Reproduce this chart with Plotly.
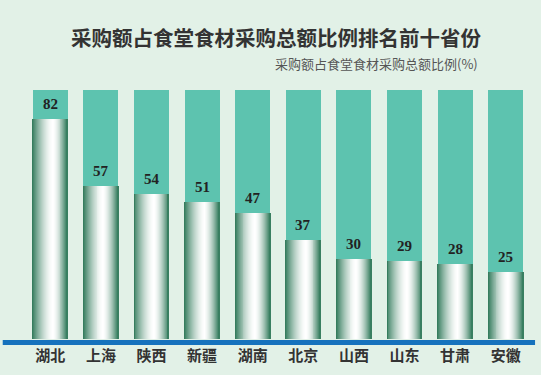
import plotly.graph_objects as go

provinces = ["湖北", "上海", "陕西", "新疆", "湖南", "北京", "山西", "山东", "甘肃", "安徽"]
shares = [82, 57, 54, 51, 47, 37, 30, 29, 28, 25]
axis_max = 93

title_text = "采购额占食堂食材采购总额比例排名前十省份"
subtitle_text = "采购额占食堂食材采购总额比例(%)"

BG = "#e2f1e7"
TEAL = "#5dc3af"
BAR_W = 0.69
N_STRIPES = 36

fig = go.Figure()

# full-height teal tracks
fig.add_trace(go.Bar(x=provinces, y=[axis_max] * len(provinces), width=BAR_W,
                     marker=dict(color=TEAL, line=dict(width=0)),
                     hoverinfo="skip", showlegend=False))

# metallic gradient value bars built from thin stripes
dark = (46, 120, 88)
white = (255, 255, 255)
peak = 0.58
sw = BAR_W / N_STRIPES
for i in range(N_STRIPES):
    t = (i + 0.5) / N_STRIPES
    d = abs(t - peak) / (peak if t < peak else 1 - peak)
    k = min(1.0, d) ** 1.6
    c = tuple(int(round(white[j] + (dark[j] - white[j]) * k)) for j in range(3))
    fig.add_trace(go.Bar(x=provinces, y=shares, width=sw * 1.15,
                         offset=-BAR_W / 2 + i * sw,
                         marker=dict(color="rgb(%d,%d,%d)" % c, line=dict(width=0)),
                         hoverinfo="skip", showlegend=False))

for p, v in zip(provinces, shares):
    fig.add_annotation(x=p, y=v, text=str(v), showarrow=False, yshift=15,
                       font=dict(family="Liberation Serif", size=15, color="#222222", weight="bold"))

fig.add_annotation(xref="paper", yref="paper", x=0.496, y=1.0, yshift=53, yanchor="middle",
                   text=title_text, showarrow=False, xanchor="center",
                   font=dict(family="Noto Sans CJK SC", size=20.5, color="#333333", weight="bold"))
fig.add_annotation(xref="paper", yref="paper", x=0.9, y=1.0, yshift=27, yanchor="middle",
                   text=subtitle_text, showarrow=False, xanchor="right",
                   font=dict(family="Noto Sans CJK SC", size=13, color="#555555"))

# blue base line
fig.add_shape(type="rect", xref="paper", yref="paper", x0=-0.044, x1=1.008,
              y0=-0.024, y1=-0.004, fillcolor="#1672bd", line=dict(width=0))

fig.update_layout(
    width=541, height=375,
    margin=dict(l=25, r=10, t=90, b=36),
    paper_bgcolor=BG, plot_bgcolor=BG,
    barmode="overlay", bargap=0,
    xaxis=dict(showgrid=False, zeroline=False, showline=False, ticks="",
               tickfont=dict(family="Noto Sans CJK SC", size=15, color="#333333", weight="bold"),
               ticklabelstandoff=6),
    yaxis=dict(range=[0, axis_max], visible=False, showgrid=False, zeroline=False),
)

fig.write_html("out.html", config={"displayModeBar": False},
               post_script="document.body.style.margin='0';")
